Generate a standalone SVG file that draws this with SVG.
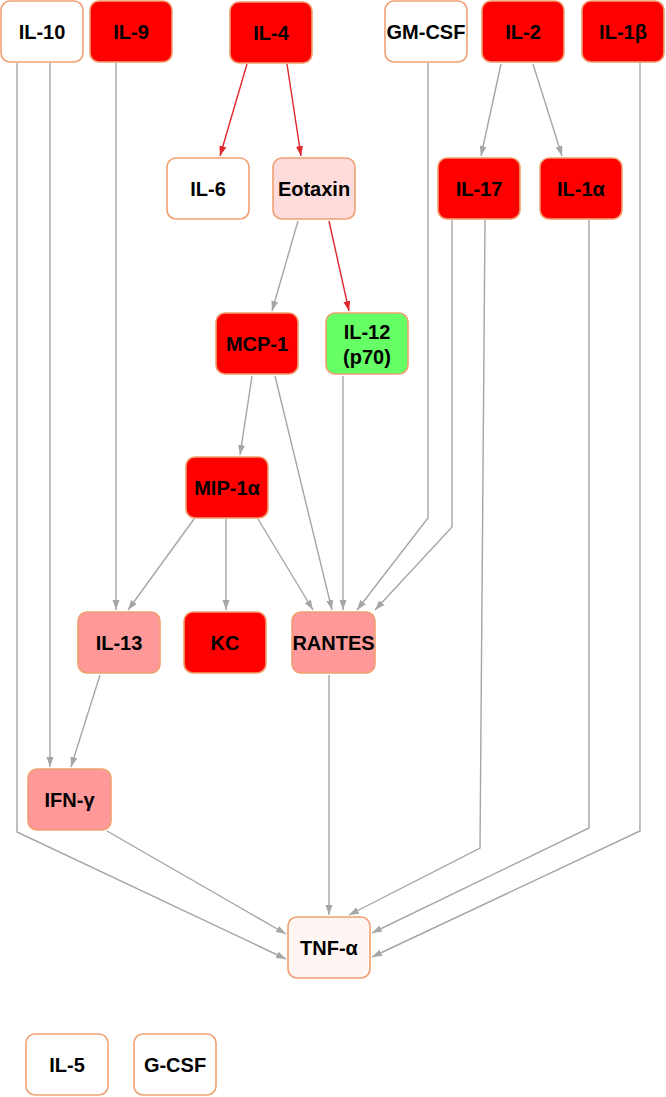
<svg xmlns="http://www.w3.org/2000/svg" width="666" height="1097" viewBox="0 0 666 1097">
<defs>
<marker id="ag" markerUnits="userSpaceOnUse" markerWidth="11" markerHeight="8" refX="10" refY="3.5" orient="auto"><path d="M0,0 L10,3.5 L0,7 z" fill="#a6a6a6"/></marker>
<marker id="ar" markerUnits="userSpaceOnUse" markerWidth="11" markerHeight="8" refX="10" refY="3.5" orient="auto"><path d="M0,0 L10,3.5 L0,7 z" fill="#e0262a"/></marker>
</defs>
<style>
rect{stroke:#f0a070;stroke-width:1.6}
.w{fill:#ffffff}.r{fill:#ff0000}.p{fill:#ff9999}.e{fill:#ffdcdc}.t{fill:#fff5f3}.g{fill:#66ff66}
text{font-family:"Liberation Sans",Arial,sans-serif;font-weight:bold;font-size:20px;text-anchor:middle;fill:#000}
.c path{fill:none;stroke:#a6a6a6;stroke-width:1.4;marker-end:url(#ag)}
.c path.red{stroke:#e0262a;marker-end:url(#ar)}
</style>
<rect width="666" height="1097" fill="#fff" style="stroke:none"/>
<g class="c" id="connectors">
<path class="red" d="M247,64 L220,156"/>
<path class="red" d="M287,64 L301,156"/>
<path d="M501,64 L481,156"/>
<path d="M533,64 L562,156"/>
<path d="M298,221 L272,311"/>
<path class="red" d="M329,221 L349,311"/>
<path d="M252,376 L240,455"/>
<path d="M275,376 L332,610"/>
<path d="M343,376 L343,610"/>
<path d="M194,519 L128,610"/>
<path d="M226,519 L226,610"/>
<path d="M258,519 L313,610"/>
<path d="M116,63 L116,610"/>
<path d="M428,63 L428,518 L357,610"/>
<path d="M452,220 L452,527 L375,610"/>
<path d="M485,220 L480,848 L349,915"/>
<path d="M589,220 L589,828 L372,933"/>
<path d="M640,63 L640,831 L372,957"/>
<path d="M50,63 L50,767"/>
<path d="M17,63 L17,832 L286,959"/>
<path d="M107,831 L286,934"/>
<path d="M329,675 L329,915"/>
<path d="M100,675 L71,767"/>
</g>
<g id="IL-10"><rect class="w" x="1" y="1" width="82" height="61" rx="9"/><text x="42" y="39">IL-10</text></g>
<g id="IL-9"><rect class="r" x="90" y="1" width="82" height="61" rx="9"/><text x="131" y="39">IL-9</text></g>
<g id="IL-4"><rect class="r" x="230" y="2" width="82" height="61" rx="9"/><text x="271" y="40">IL-4</text></g>
<g id="GM-CSF"><rect class="w" x="385" y="1" width="82" height="61" rx="9"/><text x="426" y="39">GM-CSF</text></g>
<g id="IL-2"><rect class="r" x="482" y="1" width="82" height="61" rx="9"/><text x="523" y="39">IL-2</text></g>
<g id="IL-1b"><rect class="r" x="582" y="1" width="82" height="61" rx="9"/><text x="623" y="39">IL-1β</text></g>
<g id="IL-6"><rect class="w" x="167" y="158" width="82" height="61" rx="9"/><text x="208" y="196">IL-6</text></g>
<g id="Eotaxin"><rect class="e" x="273" y="158" width="82" height="61" rx="9"/><text x="314" y="196">Eotaxin</text></g>
<g id="IL-17"><rect class="r" x="438" y="158" width="82" height="61" rx="9"/><text x="479" y="196">IL-17</text></g>
<g id="IL-1a"><rect class="r" x="540" y="158" width="82" height="61" rx="9"/><text x="581" y="196">IL-1α</text></g>
<g id="MCP-1"><rect class="r" x="216" y="313" width="82" height="61" rx="9"/><text x="257" y="351">MCP-1</text></g>
<g id="IL-12"><rect class="g" x="326" y="313" width="82" height="61" rx="9"/><text x="367" y="339">IL-12</text><text x="367" y="364">(p70)</text></g>
<g id="MIP-1a"><rect class="r" x="186" y="457" width="82" height="61" rx="9"/><text x="227" y="495">MIP-1α</text></g>
<g id="IL-13"><rect class="p" x="78" y="612" width="82" height="61" rx="9"/><text x="119" y="650">IL-13</text></g>
<g id="KC"><rect class="r" x="184" y="612" width="82" height="61" rx="9"/><text x="225" y="650">KC</text></g>
<g id="RANTES"><rect class="p" x="292" y="612" width="83" height="61" rx="9"/><text x="333.5" y="650">RANTES</text></g>
<g id="IFN-g"><rect class="p" x="28" y="769" width="83" height="61" rx="9"/><text x="69.5" y="807">IFN-γ</text></g>
<g id="TNF-a"><rect class="t" x="288" y="917" width="82" height="61" rx="9"/><text x="329" y="955">TNF-α</text></g>
<g id="IL-5"><rect class="w" x="26" y="1034" width="82" height="61" rx="9"/><text x="67" y="1072">IL-5</text></g>
<g id="G-CSF"><rect class="w" x="134" y="1034" width="82" height="61" rx="9"/><text x="175" y="1072">G-CSF</text></g>
</svg>
